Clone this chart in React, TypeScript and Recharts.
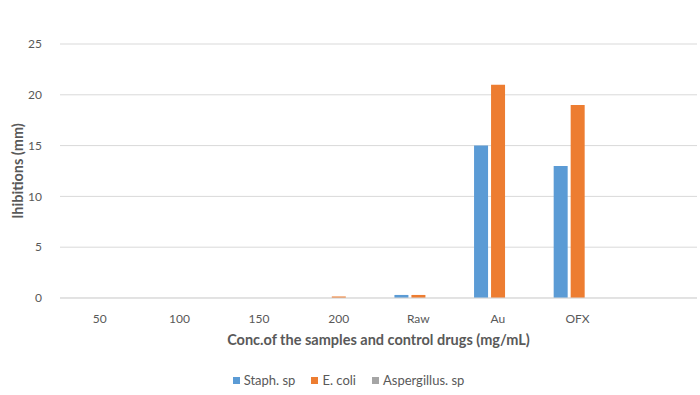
import { BarChart, Bar, XAxis, YAxis, CartesianGrid, Legend, Label } from 'recharts';

const categories = ['50', '100', '150', '200', 'Raw', 'Au', 'OFX', ''];
const staph = [0, 0, 0, 0, 0.3, 15, 13, null];
const ecoli = [0, 0, 0, 0.15, 0.3, 21, 19, null];
const asper = [0, 0, 0, 0, 0, 0, 0, null];
const yTicks = [0, 5, 10, 15, 20, 25];

const seriesList = [
	{ key: 'staph', name: 'Staph. sp', color: '#5b9bd5' },
	{ key: 'ecoli', name: 'E. coli', color: '#ed7d31' },
	{ key: 'asper', name: 'Aspergillus. sp', color: '#a5a5a5' },
];

const data = categories.map((name, i) => ({
	name,
	staph: staph[i],
	ecoli: ecoli[i],
	asper: asper[i],
}));

const font = 'Lato, "Open Sans", sans-serif';
const textColor = '#595959';

function LegendContent() {
	return (
		<div style={{ display: 'flex', justifyContent: 'center', gap: 16, fontSize: 13, fontFamily: font, color: textColor }}>
			{seriesList.map((s) => (
				<span key={s.key} style={{ display: 'flex', alignItems: 'center' }}>
					<span style={{ width: 7, height: 7, background: s.color, marginRight: 4, display: 'inline-block' }} />
					{s.name}
				</span>
			))}
		</div>
	);
}

export default function App() {
	return (
		<div style={{ position: 'absolute', top: 0, left: 0, width: 700, height: 395, background: '#fff', fontFamily: font }}>
			<BarChart
				width={700}
				height={395}
				data={data}
				margin={{ top: 44, right: 3, left: 0, bottom: 0 }}
				barCategoryGap="20%"
				barGap={3}
			>
				<CartesianGrid vertical={false} stroke="#d9d9d9" />
				<XAxis
					dataKey="name"
					axisLine={{ stroke: '#d9d9d9' }}
					tickLine={false}
					tick={{ fill: textColor, fontSize: 12, fontFamily: font }}
					tickMargin={10}
					height={55}
				>
					<Label
						value="Conc.of the samples and control drugs (mg/mL)"
						position="insideBottom"
						offset={8}
						style={{ fill: textColor, fontSize: 14.5, fontWeight: 'bold', fontFamily: font }}
					/>
				</XAxis>
				<YAxis
					domain={[0, 25]}
					ticks={yTicks}
					axisLine={false}
					tickLine={false}
					tick={{ fill: textColor, fontSize: 12, fontFamily: font }}
					tickMargin={12}
					width={60}
				>
					<Label
						value="Ihibitions (mm)"
						angle={-90}
						position="insideLeft"
						offset={18}
						style={{ fill: textColor, fontSize: 14.5, fontWeight: 'bold', fontFamily: font, textAnchor: 'middle' }}
					/>
				</YAxis>
				<Legend
					verticalAlign="bottom"
					height={42}
					content={<LegendContent />}
					wrapperStyle={{ top: 372, bottom: 'auto' }}
				/>
				{seriesList.map((s) => (
					<Bar key={s.key} dataKey={s.key} name={s.name} fill={s.color} isAnimationActive={false} />
				))}
			</BarChart>
		</div>
	);
}
